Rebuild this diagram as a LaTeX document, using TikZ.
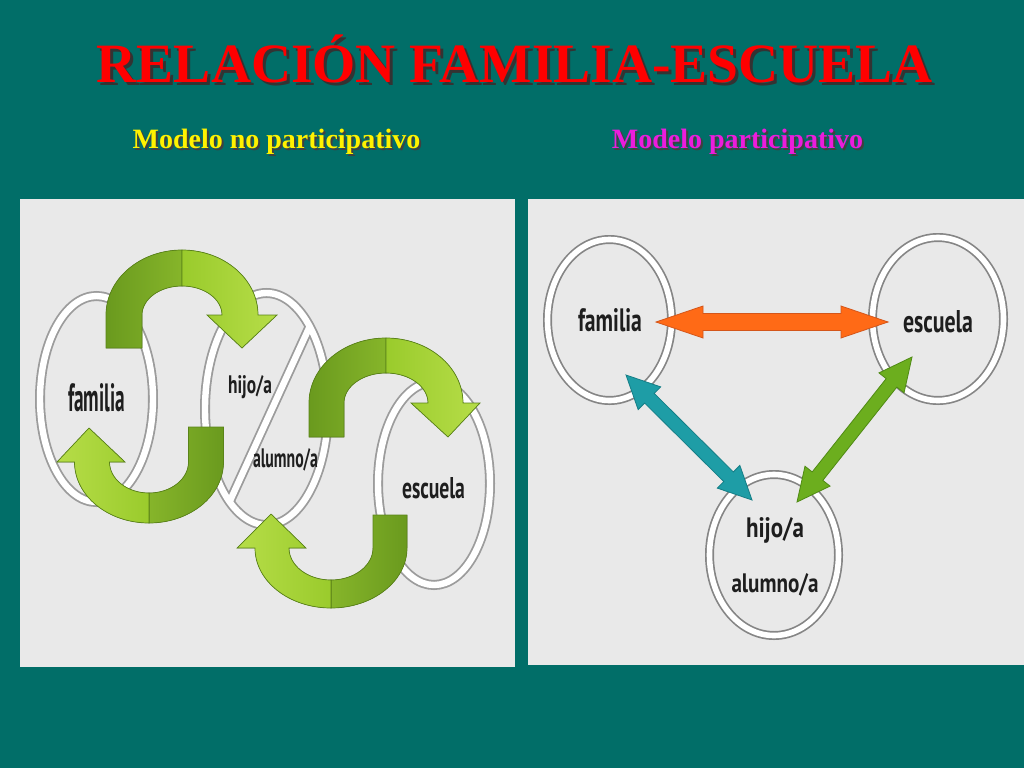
\documentclass[tikz,border=0pt]{standalone}
\usepackage{fontspec}
\setmainfont{Liberation Serif}
\newfontfamily\labfont{PT Sans}
\usetikzlibrary{calc,shapes.geometric}
\definecolor{bgteal}{HTML}{016E68}
\definecolor{panelgray}{HTML}{E9E9E9}
\definecolor{ringgray}{HTML}{9C9C9C}
\definecolor{ringgrayb}{HTML}{858585}
\definecolor{gdark}{HTML}{6A9A1E}
\definecolor{gdarkb}{HTML}{86B52A}
\definecolor{glight}{HTML}{9ACB2C}
\definecolor{glightb}{HTML}{B6DD48}
\definecolor{gline}{HTML}{5A8418}
\definecolor{orangefill}{HTML}{FF6A16}
\definecolor{orangeline}{HTML}{D4561A}
\definecolor{tealfill}{HTML}{1E9DA6}
\definecolor{tealline}{HTML}{157E86}
\definecolor{greenfill}{HTML}{6CAE1E}
\definecolor{greenline}{HTML}{4F8A14}
\definecolor{labtext}{HTML}{1E1E1E}
\newcommand\fatarrow[6]{%
  \coordinate (hA) at ($(#1)!#3!(#2)$);
  \coordinate (hB) at ($(#2)!#3!(#1)$);
  \filldraw[#6] (#1) -- ($(hA)!#4!90:(#2)$) -- ($(hA)!#5!90:(#2)$)
    -- ($(hB)!#5!-90:(#1)$) -- ($(hB)!#4!-90:(#1)$) -- (#2)
    -- ($(hB)!#4!90:(#1)$) -- ($(hB)!#5!90:(#1)$)
    -- ($(hA)!#5!-90:(#2)$) -- ($(hA)!#4!-90:(#2)$) -- cycle;
}
\begin{document}
\begin{tikzpicture}[x=1pt,y=-1pt]
\tikzset{
  ringout/.style={draw=ringgray, line width=10pt},
  ringin/.style={draw=white, line width=6.4pt},
  ringnode/.style={ellipse, draw=ringgrayb, line width=1.7pt, double=white, double distance=5.6pt, inner sep=0pt},
  ribdark/.style={draw=gline, line width=0.7pt, line join=miter},
  riblight/.style={draw=gline, line width=0.7pt, line join=miter},
  lab/.style={text=labtext, inner sep=0pt, anchor=base},
  titletxt/.style={inner sep=0pt, anchor=base, font=\bfseries\fontsize{55.5pt}{60pt}\selectfont},
  subtxt/.style={inner sep=0pt, anchor=base, font=\bfseries\fontsize{28pt}{32pt}\selectfont},
  panel/.style={fill=panelgray}
}
\fill[bgteal] (0,0) rectangle (1024,768);
\useasboundingbox (0,0) rectangle (1024,768);

% titles
\node[titletxt, text=black!80] (titleshadow) at (518,85) {RELACIÓN FAMILIA-ESCUELA};
\node[titletxt, text=red] (title) at (515,82) {RELACIÓN FAMILIA-ESCUELA};
\node[subtxt, text=black!75] (subashadow) at (278.5,150) {Modelo no participativo};
\node[subtxt, text=yellow] (suba) at (276.5,148) {Modelo no participativo};
\node[subtxt, text=black!75] (subbshadow) at (739.5,150) {Modelo participativo};
\node[subtxt, text={rgb,255:red,236;green,28;blue,220}] (subb) at (737.5,148) {Modelo participativo};

% panels
\fill[panel] (20,199) rectangle (515,667);
\fill[panel] (528,199) rectangle (1024,665);

% ---------- left diagram: rings ----------
\draw[ringout] (96.5,399) ellipse [x radius=56.5, y radius=103];
\draw[ringout] (266.5,409) ellipse [x radius=61.5, y radius=116];
\draw[ringout] (309,328) -- (229,503);
\draw[ringout] (434,483.5) ellipse [x radius=56, y radius=101.5];
\draw[ringin] (96.5,399) ellipse [x radius=56.5, y radius=103];
\draw[ringin] (266.5,409) ellipse [x radius=61.5, y radius=116];
\draw[ringin] (309,328) -- (229,503);
\draw[ringin] (434,483.5) ellipse [x radius=56, y radius=101.5];

% ---------- left diagram: ribbon arrows ----------
% arrow 1: familia -> hijo (top)
\filldraw[ribdark, left color=gdark, right color=gdarkb]
  (106,348) -- (106,315) arc[start angle=180, end angle=270, x radius=76, y radius=65]
  -- (182,286) arc[start angle=270, end angle=180, x radius=40, y radius=29]
  -- (142,348) -- cycle;
\filldraw[riblight, left color=glight, right color=glightb]
  (182,250) arc[start angle=270, end angle=360, x radius=76, y radius=65]
  -- (277,315) -- (242,348) -- (207,315) -- (222,315)
  arc[start angle=0, end angle=-90, x radius=40, y radius=29] -- cycle;
% arrow 2: hijo -> familia (bottom)
\filldraw[ribdark, left color=gdarkb, right color=gdark]
  (223.5,427) -- (223.5,462) arc[start angle=0, end angle=90, x radius=74.5, y radius=61]
  -- (149,493) arc[start angle=90, end angle=0, x radius=39.5, y radius=31]
  -- (188.5,427) -- cycle;
\filldraw[riblight, left color=glightb, right color=glight]
  (149,523) arc[start angle=90, end angle=180, x radius=74.5, y radius=61]
  -- (57,462) -- (89,428) -- (125,462) -- (109.5,462)
  arc[start angle=180, end angle=90, x radius=39.5, y radius=31] -- cycle;
% arrow 3: hijo -> escuela (top)
\filldraw[ribdark, left color=gdark, right color=gdarkb]
  (309,437) -- (309,403) arc[start angle=180, end angle=270, x radius=77, y radius=65]
  -- (386,373) arc[start angle=270, end angle=180, x radius=42, y radius=30]
  -- (344,437) -- cycle;
\filldraw[riblight, left color=glight, right color=glightb]
  (386,338) arc[start angle=270, end angle=360, x radius=77, y radius=65]
  -- (480,403) -- (448,437) -- (411,403) -- (428,403)
  arc[start angle=0, end angle=-90, x radius=42, y radius=30] -- cycle;
% arrow 4: escuela -> hijo (bottom)
\filldraw[ribdark, left color=gdarkb, right color=gdark]
  (407,515) -- (407,548) arc[start angle=0, end angle=90, x radius=76, y radius=60]
  -- (331,580) arc[start angle=90, end angle=0, x radius=42, y radius=32]
  -- (373,515) -- cycle;
\filldraw[riblight, left color=glightb, right color=glight]
  (331,608) arc[start angle=90, end angle=180, x radius=76, y radius=60]
  -- (237,548) -- (271,514) -- (306,548) -- (289,548)
  arc[start angle=180, end angle=90, x radius=42, y radius=32] -- cycle;

% left labels
\node[lab] (lfam) at (96.5,411) {\resizebox{57pt}{28pt}{\labfont\bfseries familia}};
\node[lab] (lhijo) at (250,393) {\resizebox{44pt}{18pt}{\labfont\bfseries hijo/a}};
\node[lab] (lalum) at (285.5,467) {\resizebox{65pt}{19pt}{\labfont\bfseries alumno/a}};
\node[lab] (lesc) at (433.5,498) {\resizebox{63pt}{21pt}{\labfont\bfseries escuela}};

% ---------- right diagram ----------
\node[ringnode, minimum width=124pt, minimum height=161pt] (famR) at (609.5,320) {};
\node[ringnode, minimum width=131pt, minimum height=163pt] (escR) at (938,319) {};
\node[ringnode, minimum width=129pt, minimum height=161pt] (hijR) at (774,555) {};

\node[lab] (rfam) at (610,331) {\resizebox{64pt}{23pt}{\labfont\bfseries familia}};
\node[lab] (resc) at (938,332) {\resizebox{70pt}{22pt}{\labfont\bfseries escuela}};
\node[lab] (rhijo) at (775,537) {\resizebox{58pt}{20pt}{\labfont\bfseries hijo/a}};
\node[lab] (ralum) at (775,592) {\resizebox{87pt}{19pt}{\labfont\bfseries alumno/a}};

\coordinate (oL) at (656,322);
\coordinate (oR) at (888,322);
\coordinate (tA) at (626,375);
\coordinate (tB) at (752,500);
\coordinate (gA) at (912,357);
\coordinate (gB) at (797,502);
\fatarrow{oL}{oR}{47pt}{16pt}{8.5pt}{fill=orangefill, draw=orangeline, line width=0.8pt}
\fatarrow{tA}{tB}{33pt}{16pt}{6.8pt}{fill=tealfill, draw=tealline, line width=0.8pt}
\fatarrow{gA}{gB}{33pt}{16pt}{6.8pt}{fill=greenfill, draw=greenline, line width=0.8pt}
\end{tikzpicture}
\end{document}
